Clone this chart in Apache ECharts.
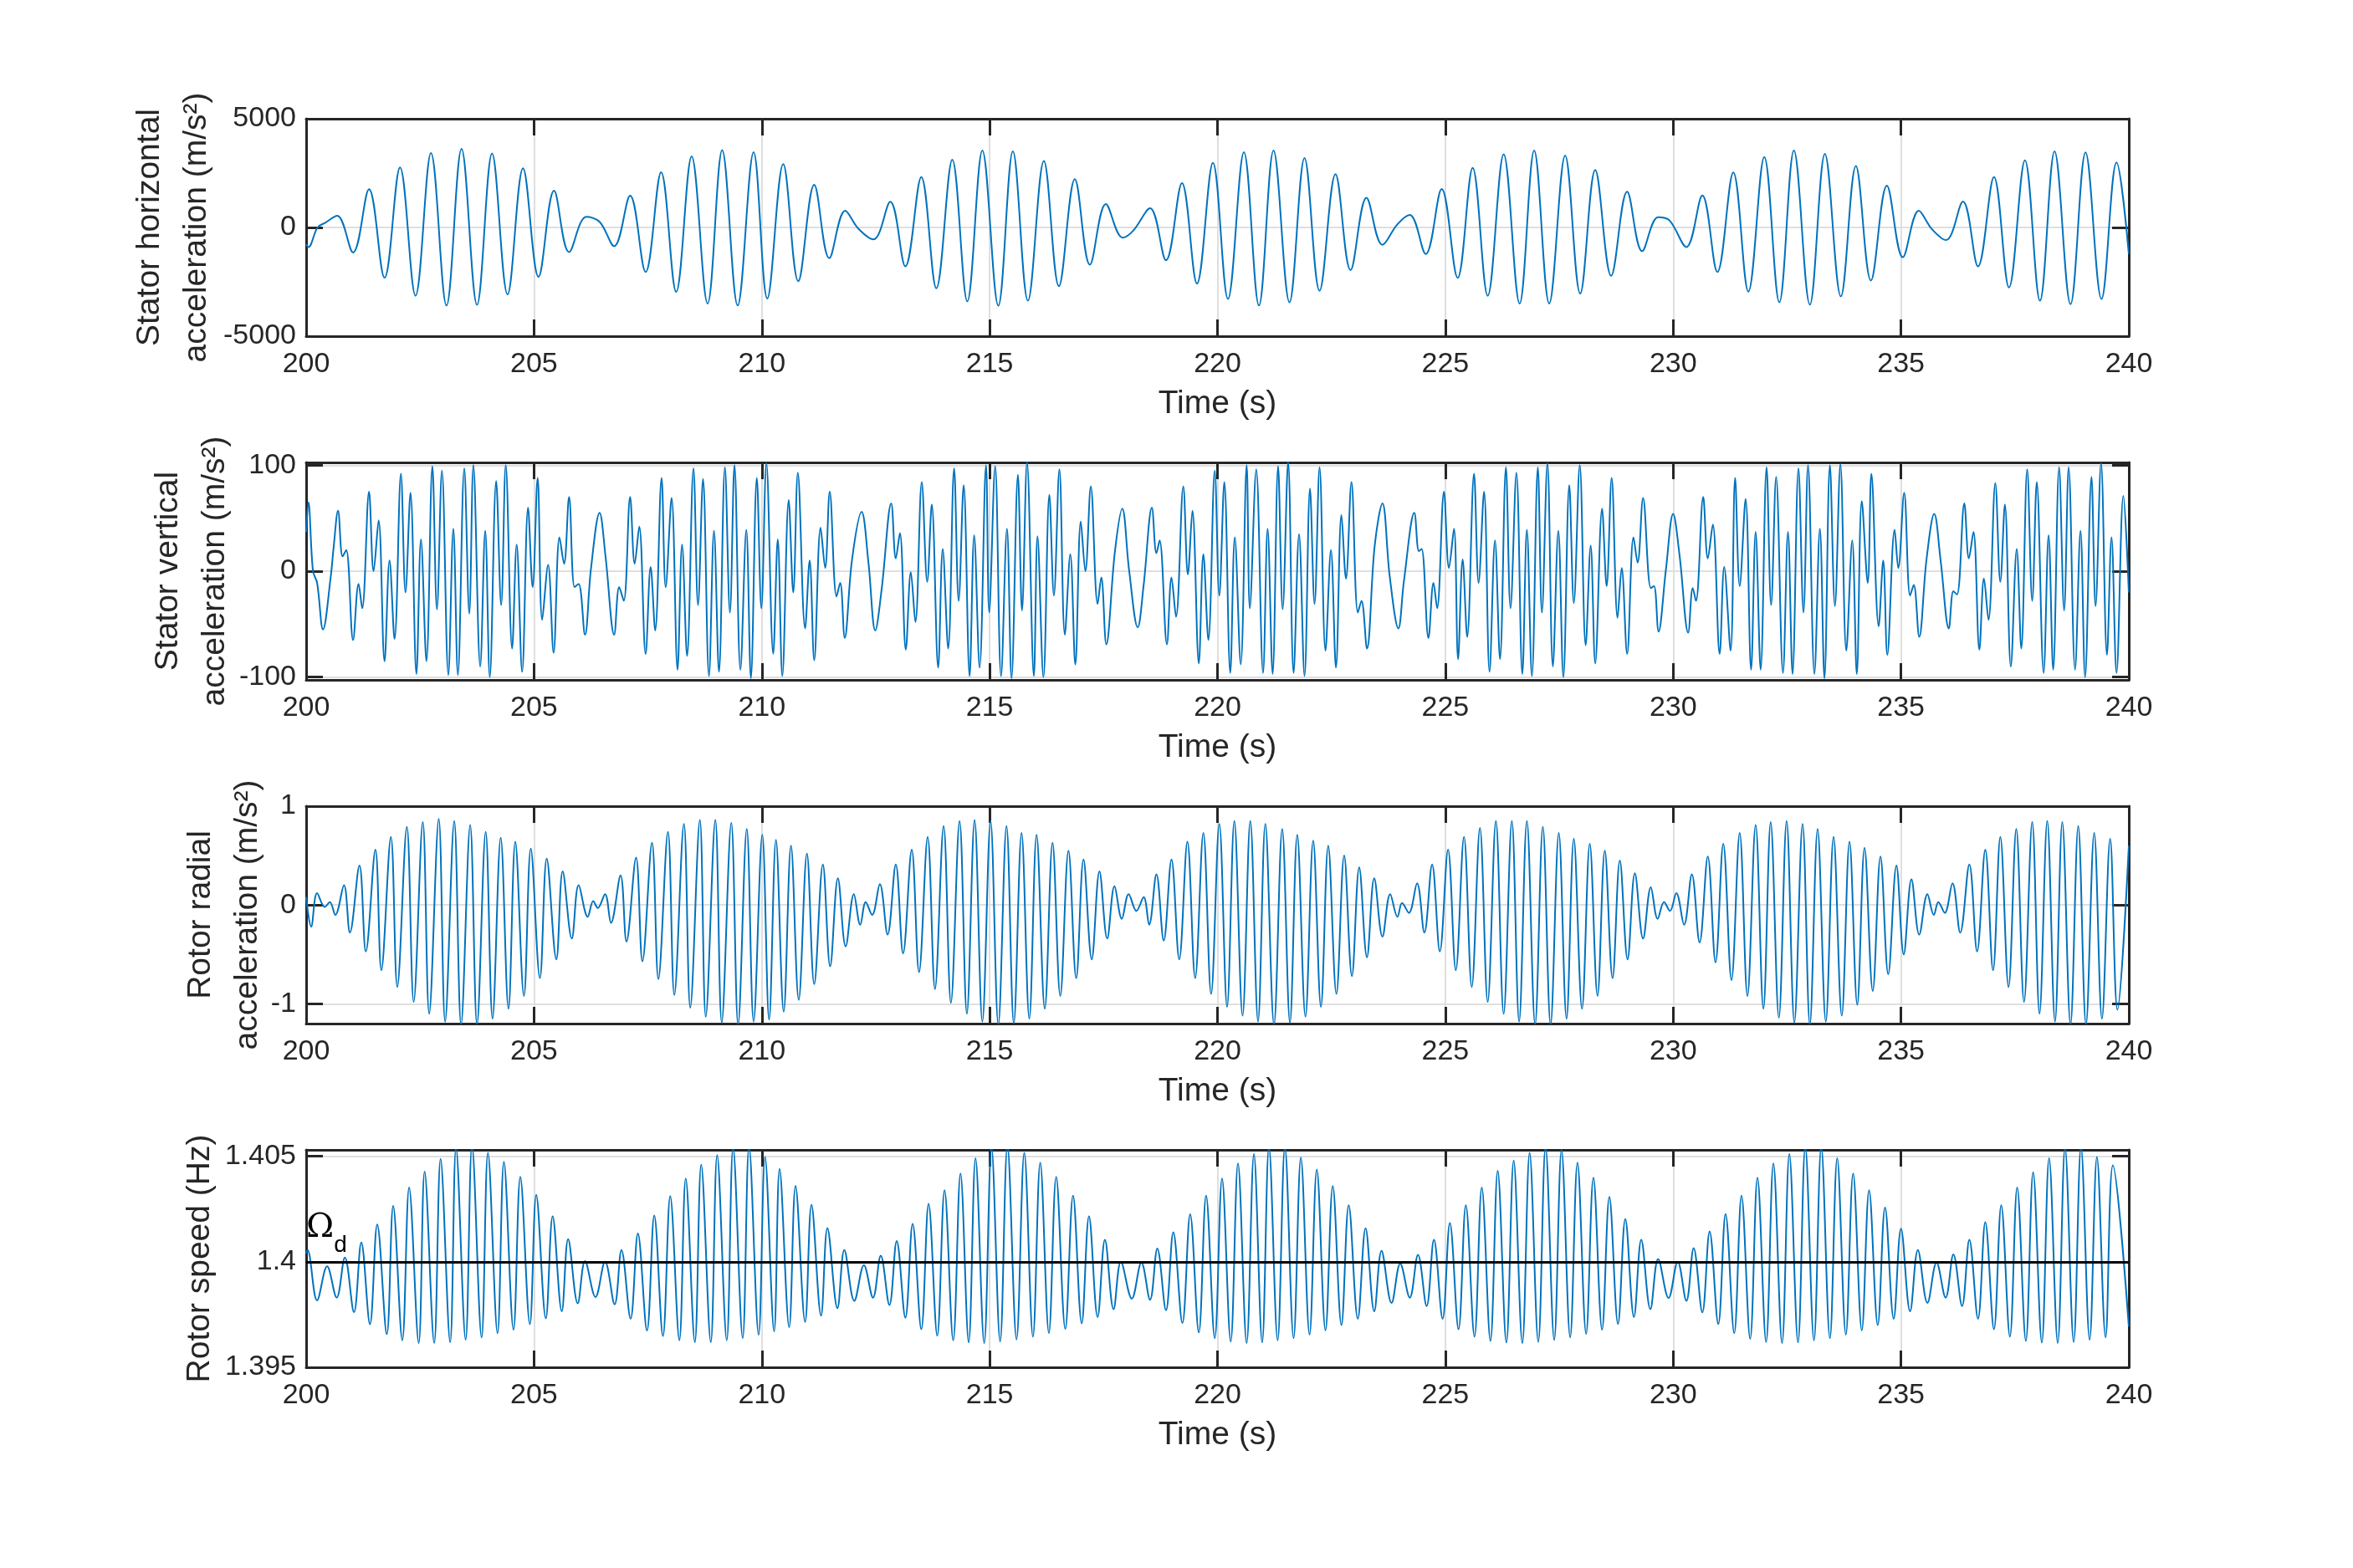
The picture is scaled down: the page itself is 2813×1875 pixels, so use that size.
<!DOCTYPE html>
<html>
<head>
<meta charset="utf-8">
<script src="https://cdn.jsdelivr.net/npm/echarts@6.0.0/dist/echarts.min.js"></script>
<style>
  html, body { margin: 0; padding: 0; background: #fff; }
  #main { width: 2813px; height: 1875px; }
</style>
</head>
<body>
<div id="main"></div>
<script>
// time window (s) and x ticks
var timeMin = 200, timeMax = 240, timeStep = 5;

// y tick values of each panel
var horizTicks = [-5000, 0, 5000];
var vertTicks = [-100, 0, 100];
var radialTicks = [-1, 0, 1];
var speedTicks = [1.395, 1.4, 1.405];
var speedRef = 1.4; // Omega_d

// stator horizontal acceleration (m/s^2): [time, value] read at peaks / troughs / shoulders
var horizAcc = [
  [200.00,-770],[200.05,-900],[200.25,0],[200.42,220],[200.68,540],[201.03,-1150],[201.38,1760],[201.72,-2310],
  [202.06,2760],[202.40,-3140],[202.74,3420],[203.08,-3590],[203.41,3620],[203.75,-3560],[204.08,3400],[204.42,-3080],
  [204.76,2720],[205.10,-2270],[205.44,1690],[205.77,-1130],[206.15,490],[206.44,260],[206.76,-860],[207.11,1460],
  [207.45,-2050],[207.79,2540],[208.12,-2960],[208.46,3270],[208.81,-3500],[209.13,3560],[209.47,-3590],[209.82,3460],
  [210.12,-3270],[210.47,2910],[210.80,-2470],[211.15,1960],[211.48,-1410],[211.83,770],[212.12,-60],[212.45,-550],
  [212.82,1180],[213.15,-1790],[213.50,2320],[213.83,-2800],[214.18,3120],[214.51,-3400],[214.84,3540],[215.19,-3600],
  [215.51,3500],[215.84,-3370],[216.19,3060],[216.52,-2700],[216.87,2220],[217.20,-1710],[217.55,1080],[217.92,-470],
  [218.15,-150],[218.52,880],[218.87,-1510],[219.22,2040],[219.55,-2580],[219.90,2970],[220.23,-3290],[220.58,3460],
  [220.91,-3590],[221.23,3540],[221.58,-3440],[221.91,3190],[222.24,-2910],[222.59,2450],[222.92,-1960],[223.27,1370],
  [223.62,-800],[223.95,150],[224.22,580],[224.57,-1220],[224.92,1770],[225.27,-2320],[225.60,2740],[225.93,-3140],
  [226.28,3370],[226.63,-3500],[226.95,3540],[227.28,-3500],[227.63,3310],[227.96,-3040],[228.29,2640],[228.64,-2220],
  [228.99,1640],[229.32,-1090],[229.67,470],[229.92,320],[230.29,-900],[230.64,1470],[230.97,-2050],[231.32,2530],
  [231.65,-2950],[232.00,3240],[232.33,-3440],[232.65,3540],[233.00,-3550],[233.33,3380],[233.68,-3170],[234.01,2830],
  [234.34,-2440],[234.69,1920],[235.04,-1370],[235.39,770],[235.68,-80],[235.99,-580],[236.36,1190],[236.69,-1790],
  [237.04,2320],[237.37,-2760],[237.72,3090],[238.05,-3370],[238.37,3500],[238.72,-3530],[239.05,3450],[239.40,-3290],
  [239.73,2990],[240.00,-1220]
];

// stator vertical acceleration (m/s^2)
var vertAcc = [
  [200.00,37],[200.05,65],[200.15,0],[200.24,-11],[200.37,-55],[200.54,-5],[200.60,21],[200.70,57],[200.80,14],[200.88,20],
  [201.03,-65],[201.15,-12],[201.23,-35],[201.38,75],[201.48,0],[201.59,48],[201.72,-85],[201.83,10],[201.94,-64],[202.08,92],
  [202.18,-20],[202.29,74],[202.42,-97],[202.52,30],[202.64,-85],[202.77,99],[202.87,-36],[202.98,95],[203.12,-98],[203.23,40],
  [203.33,-98],[203.47,97],[203.58,-40],[203.67,100],[203.82,-90],[203.93,38],[204.03,-100],[204.17,85],[204.28,-32],[204.38,100],
  [204.52,-73],[204.62,25],[204.74,-95],[204.87,60],[204.97,-15],[205.08,88],[205.18,-46],[205.31,6],[205.43,-77],[205.56,32],
  [205.66,7],[205.77,70],[205.89,-15],[205.98,-12],[206.12,-60],[206.25,2],[206.44,55],[206.57,14],[206.76,-60],[206.87,-15],
  [206.97,-28],[207.11,70],[207.21,7],[207.31,42],[207.45,-78],[207.56,4],[207.66,-56],[207.80,88],[207.89,-15],[208.02,69],
  [208.15,-93],[208.25,25],[208.36,-80],[208.50,97],[208.60,-32],[208.71,87],[208.84,-99],[208.95,38],[209.06,-95],[209.19,98],
  [209.30,-39],[209.40,100],[209.53,-93],[209.66,39],[209.76,-101],[209.89,88],[209.99,-35],[210.10,102],[210.25,-78],[210.35,30],
  [210.45,-99],[210.59,67],[210.69,-20],[210.79,93],[210.95,-54],[211.05,10],[211.15,-84],[211.29,41],[211.39,3],[211.49,75],
  [211.64,-24],[211.72,-11],[211.82,-63],[211.98,11],[212.19,56],[212.34,8],[212.49,-56],[212.63,-17],[212.84,64],[212.94,12],
  [213.03,36],[213.16,-74],[213.27,-1],[213.37,-48],[213.51,84],[213.63,-10],[213.73,63],[213.87,-91],[213.97,21],[214.09,-73],
  [214.22,97],[214.32,-28],[214.43,81],[214.56,-99],[214.66,34],[214.78,-91],[214.92,100],[214.99,-39],[215.12,99],[215.25,-99],
  [215.38,40],[215.48,-101],[215.62,91],[215.71,-37],[215.82,103],[215.97,-99],[216.05,33],[216.18,-100],[216.31,72],[216.41,-23],
  [216.53,96],[216.65,-60],[216.77,16],[216.88,-88],[217.00,47],[217.10,0],[217.22,80],[217.37,-31],[217.45,-6],[217.56,-69],
  [217.75,19],[217.91,59],[218.06,1],[218.25,-53],[218.38,-13],[218.56,60],[218.66,17],[218.73,29],[218.89,-69],[218.99,-6],
  [219.09,-43],[219.25,80],[219.35,-3],[219.45,57],[219.59,-87],[219.69,16],[219.80,-65],[219.94,95],[220.04,-23],[220.15,84],
  [220.28,-96],[220.38,32],[220.51,-88],[220.64,100],[220.71,-35],[220.85,96],[221.00,-96],[221.10,40],[221.21,-97],[221.33,99],
  [221.43,-36],[221.55,103],[221.67,-96],[221.79,35],[221.91,-99],[222.03,78],[222.13,-31],[222.24,98],[222.37,-75],[222.49,20],
  [222.60,-91],[222.72,53],[222.82,-7],[222.94,84],[223.08,-39],[223.16,-28],[223.28,-73],[223.45,24],[223.62,64],[223.78,-5],
  [223.97,-54],[224.09,-10],[224.32,55],[224.42,19],[224.48,21],[224.63,-63],[224.74,-11],[224.82,-35],[224.97,75],[225.08,3],
  [225.19,40],[225.28,-83],[225.38,11],[225.48,-62],[225.63,92],[225.73,-11],[225.85,75],[225.97,-95],[226.09,29],[226.20,-83],
  [226.33,98],[226.43,-35],[226.56,93],[226.69,-97],[226.79,39],[226.90,-99],[227.03,98],[227.12,-39],[227.24,102],[227.36,-90],
  [227.48,38],[227.59,-100],[227.72,81],[227.82,-30],[227.95,100],[228.08,-70],[228.19,24],[228.29,-87],[228.44,59],[228.54,-14],
  [228.65,88],[228.78,-44],[228.87,3],[228.99,-78],[229.13,32],[229.22,8],[229.34,69],[229.51,-16],[229.58,-14],[229.68,-57],
  [229.84,1],[230.00,54],[230.14,15],[230.33,-58],[230.43,-16],[230.50,-28],[230.66,70],[230.76,12],[230.87,44],[231.02,-78],
  [231.12,4],[231.26,-75],[231.36,88],[231.46,-14],[231.59,68],[231.71,-93],[231.81,37],[231.92,-93],[232.05,98],[232.15,-32],
  [232.26,89],[232.41,-96],[232.52,37],[232.62,-97],[232.75,97],[232.86,-39],[232.96,100],[233.10,-97],[233.22,40],[233.32,-101],
  [233.44,100],[233.55,-33],[233.67,101],[233.80,-75],[233.93,29],[234.03,-97],[234.14,66],[234.27,-11],[234.35,92],[234.51,-52],
  [234.61,10],[234.70,-79],[234.86,39],[234.94,3],[235.07,74],[235.20,-23],[235.28,-13],[235.40,-62],[235.56,11],[235.73,54],
  [235.87,10],[236.05,-54],[236.15,-19],[236.23,-22],[236.39,64],[236.49,12],[236.59,37],[236.72,-74],[236.82,-7],[236.92,-46],
  [237.07,83],[237.18,-10],[237.28,63],[237.41,-90],[237.54,21],[237.64,-73],[237.77,96],[237.88,-28],[237.98,84],[238.13,-96],
  [238.24,34],[238.34,-93],[238.47,98],[238.58,-37],[238.68,98],[238.82,-93],[238.94,38],[239.04,-100],[239.18,89],[239.27,-33],
  [239.39,102],[239.52,-79],[239.62,32],[239.73,-96],[239.88,71],[240.00,-20]
];

// rotor radial acceleration (m/s^2)
var radialAcc = [
  [200.00,0.08],[200.11,-0.22],[200.24,0.12],[200.41,-0.02],[200.52,0.03],[200.64,-0.10],[200.83,0.20],[200.96,-0.28],
  [201.17,0.40],[201.31,-0.47],[201.52,0.56],[201.65,-0.66],[201.86,0.69],[202.00,-0.83],[202.21,0.79],[202.36,-0.98],
  [202.56,0.84],[202.70,-1.10],[202.91,0.87],[203.05,-1.18],[203.25,0.85],[203.40,-1.21],[203.60,0.81],[203.75,-1.21],
  [203.94,0.74],[204.09,-1.15],[204.27,0.68],[204.44,-1.05],[204.59,0.64],[204.78,-0.92],[204.93,0.57],[205.13,-0.74],
  [205.28,0.47],[205.49,-0.55],[205.63,0.34],[205.83,-0.34],[205.98,0.20],[206.18,-0.12],[206.30,0.04],[206.40,-0.03],
  [206.56,0.11],[206.69,-0.18],[206.90,0.30],[207.03,-0.37],[207.24,0.48],[207.38,-0.57],[207.59,0.63],[207.73,-0.75],
  [207.94,0.74],[208.08,-0.91],[208.29,0.82],[208.43,-1.04],[208.64,0.86],[208.77,-1.13],[208.98,0.86],[209.12,-1.19],
  [209.33,0.83],[209.48,-1.21],[209.67,0.77],[209.82,-1.18],[210.01,0.71],[210.16,-1.16],[210.31,0.66],[210.48,-1.08],
  [210.64,0.60],[210.81,-0.96],[210.99,0.52],[211.15,-0.80],[211.34,0.41],[211.50,-0.62],[211.67,0.27],[211.84,-0.42],
  [212.02,0.11],[212.16,-0.20],[212.28,0.03],[212.42,-0.10],[212.59,0.21],[212.76,-0.30],[212.94,0.41],[213.10,-0.49],
  [213.29,0.56],[213.45,-0.68],[213.64,0.69],[213.80,-0.85],[213.99,0.80],[214.15,-0.99],[214.34,0.85],[214.50,-1.10],
  [214.67,0.86],[214.84,-1.18],[215.02,0.85],[215.19,-1.21],[215.37,0.80],[215.53,-1.20],[215.70,0.73],[215.87,-1.15],
  [216.03,0.71],[216.21,-1.05],[216.38,0.63],[216.55,-0.92],[216.73,0.55],[216.90,-0.74],[217.06,0.46],[217.24,-0.55],
  [217.41,0.34],[217.58,-0.34],[217.74,0.19],[217.90,-0.14],[218.05,0.11],[218.22,-0.06],[218.38,0.08],[218.50,-0.20],
  [218.66,0.31],[218.82,-0.36],[218.99,0.46],[219.16,-0.55],[219.34,0.64],[219.51,-0.74],[219.69,0.73],[219.86,-0.90],
  [220.04,0.82],[220.21,-1.03],[220.37,0.85],[220.55,-1.12],[220.72,0.85],[220.89,-1.18],[221.05,0.82],[221.24,-1.21],
  [221.42,0.77],[221.59,-1.19],[221.75,0.71],[221.93,-1.13],[222.10,0.65],[222.27,-1.03],[222.43,0.60],[222.61,-0.90],
  [222.78,0.50],[222.95,-0.72],[223.11,0.38],[223.28,-0.53],[223.44,0.27],[223.62,-0.32],[223.79,0.11],[223.95,-0.12],
  [224.05,0.02],[224.20,-0.08],[224.38,0.22],[224.54,-0.28],[224.71,0.41],[224.88,-0.47],[225.06,0.56],[225.23,-0.66],
  [225.41,0.69],[225.58,-0.83],[225.76,0.78],[225.93,-0.98],[226.11,0.85],[226.28,-1.10],[226.46,0.85],[226.62,-1.18],
  [226.79,0.85],[226.97,-1.21],[227.14,0.79],[227.31,-1.21],[227.49,0.73],[227.66,-1.15],[227.82,0.67],[228.00,-1.05],
  [228.17,0.62],[228.34,-0.92],[228.50,0.55],[228.67,-0.74],[228.83,0.45],[229.00,-0.55],[229.16,0.32],[229.34,-0.34],
  [229.51,0.18],[229.66,-0.14],[229.80,0.03],[229.93,-0.06],[230.07,0.12],[230.24,-0.20],[230.41,0.31],[230.58,-0.38],
  [230.76,0.49],[230.93,-0.58],[231.10,0.62],[231.28,-0.76],[231.46,0.73],[231.63,-0.92],[231.81,0.81],[231.98,-1.05],
  [232.14,0.84],[232.32,-1.14],[232.49,0.85],[232.66,-1.19],[232.84,0.82],[233.00,-1.21],[233.17,0.77],[233.35,-1.18],
  [233.52,0.69],[233.70,-1.12],[233.87,0.64],[234.04,-1.01],[234.20,0.58],[234.38,-0.87],[234.55,0.49],[234.72,-0.70],
  [234.90,0.40],[235.06,-0.50],[235.23,0.26],[235.40,-0.30],[235.58,0.11],[235.72,-0.10],[235.82,0.03],[235.96,-0.08],
  [236.13,0.22],[236.30,-0.28],[236.50,0.41],[236.67,-0.47],[236.85,0.56],[237.02,-0.66],[237.18,0.69],[237.36,-0.83],
  [237.53,0.77],[237.70,-0.98],[237.88,0.84],[238.04,-1.10],[238.21,0.85],[238.38,-1.18],[238.54,0.84],[238.72,-1.21],
  [238.89,0.80],[239.06,-1.21],[239.24,0.73],[239.41,-1.15],[239.59,0.67],[239.75,-1.06],[240.00,0.60]
];

// rotor speed (Hz)
var rotorSpeed = [
  [200.00,1.40040],[200.03,1.40056],[200.24,1.39817],[200.46,1.39978],[200.67,1.39830],[200.85,1.40020],[201.05,1.39761],[201.21,1.40091],
  [201.40,1.39704],[201.56,1.40176],[201.77,1.39657],[201.91,1.40265],[202.11,1.39628],[202.26,1.40352],[202.47,1.39615],[202.60,1.40427],
  [202.81,1.39615],[202.95,1.40487],[203.16,1.39619],[203.29,1.40540],[203.50,1.39631],[203.64,1.40550],[203.85,1.39641],[203.99,1.40516],
  [204.20,1.39661],[204.34,1.40474],[204.55,1.39678],[204.70,1.40402],[204.91,1.39704],[205.05,1.40317],[205.26,1.39732],[205.41,1.40215],
  [205.61,1.39765],[205.75,1.40107],[205.96,1.39803],[206.12,1.40003],[206.35,1.39833],[206.56,1.40000],[206.77,1.39798],[206.92,1.40056],
  [207.12,1.39730],[207.28,1.40134],[207.48,1.39674],[207.64,1.40219],[207.83,1.39648],[207.99,1.40311],[208.19,1.39628],[208.33,1.40394],
  [208.53,1.39619],[208.67,1.40460],[208.88,1.39619],[209.02,1.40505],[209.23,1.39628],[209.37,1.40540],[209.58,1.39638],[209.72,1.40545],
  [209.93,1.39654],[210.07,1.40496],[210.27,1.39670],[210.39,1.40440],[210.60,1.39690],[210.74,1.40360],[210.95,1.39715],[211.09,1.40270],
  [211.30,1.39745],[211.44,1.40160],[211.66,1.39780],[211.81,1.40056],[212.03,1.39815],[212.24,1.39983],[212.44,1.39830],[212.61,1.40029],
  [212.80,1.39795],[212.96,1.40098],[213.15,1.39735],[213.31,1.40179],[213.50,1.39680],[213.66,1.40274],[213.85,1.39650],[214.01,1.40339],
  [214.20,1.39628],[214.36,1.40418],[214.54,1.39618],[214.69,1.40490],[214.88,1.39615],[215.04,1.40540],[215.23,1.39622],[215.39,1.40550],
  [215.59,1.39632],[215.76,1.40516],[215.95,1.39645],[216.11,1.40470],[216.30,1.39662],[216.46,1.40402],[216.66,1.39682],[216.83,1.40313],
  [217.02,1.39708],[217.18,1.40215],[217.37,1.39738],[217.53,1.40104],[217.72,1.39775],[217.88,1.40000],[218.12,1.39825],[218.33,1.39996],
  [218.52,1.39820],[218.68,1.40063],[218.87,1.39770],[219.03,1.40140],[219.23,1.39710],[219.40,1.40225],[219.59,1.39665],[219.75,1.40313],
  [219.94,1.39638],[220.10,1.40394],[220.29,1.39622],[220.45,1.40466],[220.64,1.39615],[220.80,1.40510],[220.98,1.39618],[221.13,1.40545],
  [221.32,1.39628],[221.48,1.40545],[221.67,1.39638],[221.83,1.40493],[222.02,1.39655],[222.18,1.40437],[222.37,1.39675],[222.53,1.40359],
  [222.72,1.39700],[222.88,1.40268],[223.08,1.39730],[223.25,1.40159],[223.44,1.39765],[223.60,1.40052],[223.82,1.39805],[224.01,1.39991],
  [224.22,1.39830],[224.40,1.40033],[224.59,1.39790],[224.75,1.40104],[224.94,1.39730],[225.10,1.40183],[225.29,1.39680],[225.45,1.40268],
  [225.64,1.39645],[225.80,1.40352],[225.99,1.39625],[226.15,1.40431],[226.34,1.39617],[226.50,1.40479],[226.69,1.39615],[226.85,1.40516],
  [227.04,1.39620],[227.20,1.40545],[227.39,1.39630],[227.55,1.40530],[227.74,1.39642],[227.90,1.40470],[228.09,1.39658],[228.25,1.40398],
  [228.44,1.39678],[228.60,1.40307],[228.79,1.39705],[228.95,1.40202],[229.14,1.39738],[229.30,1.40104],[229.50,1.39775],[229.67,1.40013],
  [229.90,1.39828],[230.10,1.40000],[230.29,1.39815],[230.45,1.40065],[230.64,1.39760],[230.80,1.40144],[230.99,1.39705],[231.15,1.40226],
  [231.34,1.39662],[231.50,1.40313],[231.69,1.39635],[231.85,1.40398],[232.04,1.39620],[232.20,1.40466],[232.39,1.39615],[232.55,1.40510],
  [232.74,1.39618],[232.90,1.40545],[233.09,1.39628],[233.25,1.40545],[233.44,1.39638],[233.60,1.40490],[233.79,1.39655],[233.95,1.40418],
  [234.14,1.39675],[234.30,1.40339],[234.49,1.39700],[234.65,1.40257],[234.84,1.39730],[235.00,1.40157],[235.20,1.39765],[235.37,1.40056],
  [235.58,1.39805],[235.78,1.39996],[235.98,1.39830],[236.15,1.40035],[236.34,1.39790],[236.50,1.40104],[236.69,1.39730],[236.85,1.40187],
  [237.04,1.39680],[237.20,1.40268],[237.39,1.39645],[237.55,1.40352],[237.74,1.39625],[237.90,1.40424],[238.09,1.39617],[238.25,1.40490],
  [238.44,1.39615],[238.60,1.40540],[238.79,1.39620],[238.95,1.40545],[239.14,1.39630],[239.30,1.40496],[239.49,1.39642],[239.65,1.40457],
  [240.00,1.39693]
];

var FONT = "'Liberation Sans', Arial, Helvetica, sans-serif";
var INK = '#262626';
var BLUE = '#0072BD';
var GRIDC = '#dfdfdf';

var panels = [
  { data: horizAcc,   name: 'Stator horizontal\nacceleration (m/s²)', min: -5000, max: 5000,   ticks: horizTicks,  top: 142,  nameGap: 103 },
  { data: vertAcc,    name: 'Stator vertical\nacceleration (m/s²)',   min: -102.6, max: 102.6,  ticks: vertTicks,   top: 553,  nameGap: 81 },
  { data: radialAcc,  name: 'Rotor radial\nacceleration (m/s²)',      min: -1.2, max: 1,        ticks: radialTicks, top: 964,  nameGap: 42 },
  { data: rotorSpeed, name: 'Rotor speed (Hz)',                        min: 1.395, max: 1.4053,  ticks: speedTicks,  top: 1375, nameGap: 99 }
];

var chart = echarts.init(document.getElementById('main'));

var grids = [], xAxes = [], yAxes = [], seriesList = [];
var lineBox = { color: INK, width: 3 };
function plainNum(v) { return String(v); }

panels.forEach(function (p, i) {
  grids.push({ left: 366, width: 2179, top: p.top, height: 260, outerBoundsMode: 'none' });

  // bottom x axis with labels
  xAxes.push({
    type: 'value', gridIndex: i, position: 'bottom',
    min: timeMin, max: timeMax, interval: timeStep,
    name: 'Time (s)', nameLocation: 'middle', nameGap: 62, nameMoveOverlap: false,
    nameTextStyle: { fontSize: 39, color: INK, fontFamily: FONT },
    axisLine: { onZero: false, lineStyle: lineBox },
    axisTick: { inside: true, length: 20, lineStyle: lineBox },
    axisLabel: { margin: 17, fontSize: 34, color: INK, fontFamily: FONT, showMinLabel: true, showMaxLabel: true, formatter: plainNum },
    splitLine: { show: true, lineStyle: { color: GRIDC, width: 2 } }
  });
  // top x axis (box + mirrored ticks)
  xAxes.push({
    type: 'value', gridIndex: i, position: 'top',
    min: timeMin, max: timeMax, interval: timeStep,
    axisLine: { onZero: false, lineStyle: lineBox },
    axisTick: { inside: true, length: 20, lineStyle: lineBox },
    axisLabel: { show: false }, splitLine: { show: false }
  });
  // left y axis
  yAxes.push({
    type: 'value', gridIndex: i, position: 'left',
    min: p.min, max: p.max,
    name: p.name, nameLocation: 'middle', nameRotate: 90, nameGap: p.nameGap, nameMoveOverlap: false,
    nameTextStyle: { fontSize: 39, lineHeight: 56, color: INK, fontFamily: FONT, align: 'center' },
    axisLine: { onZero: false, lineStyle: lineBox },
    axisTick: { inside: true, length: 20, lineStyle: lineBox, customValues: p.ticks },
    axisLabel: { margin: 12, fontSize: 34, color: INK, fontFamily: FONT, customValues: p.ticks, formatter: plainNum },
    splitLine: { show: true, lineStyle: { color: GRIDC, width: 2 } }
  });
  // right y axis (box + mirrored ticks)
  yAxes.push({
    type: 'value', gridIndex: i, position: 'right',
    min: p.min, max: p.max,
    axisLine: { onZero: false, lineStyle: lineBox },
    axisTick: { inside: true, length: 20, lineStyle: lineBox, customValues: p.ticks },
    axisLabel: { show: false, customValues: p.ticks }, splitLine: { show: false }
  });

  var s = {
    type: 'line', xAxisIndex: 2 * i, yAxisIndex: 2 * i,
    data: p.data, showSymbol: false, smooth: 0.37, clip: true,
    lineStyle: { color: BLUE, width: 2 }, itemStyle: { color: BLUE },
    animation: false
  };
  if (i === 3) {
    s.markLine = {
      silent: true, symbol: ['none', 'none'], animation: false,
      lineStyle: { color: '#000', width: 3, type: 'solid' },
      label: {
        show: true, position: 'insideStartTop', distance: [0, 6],
        formatter: '{o|Ω}{d|d}',
        rich: {
          o: { fontSize: 40, fontFamily: "'DejaVu Serif', 'Liberation Serif', serif", color: '#000', lineHeight: 54, verticalAlign: 'top' },
          d: { fontSize: 28, fontFamily: FONT, color: '#000', lineHeight: 54, verticalAlign: 'bottom', padding: [22, 0, 0, 0] }
        }
      },
      data: [{ yAxis: speedRef }]
    };
  }
  seriesList.push(s);
});

chart.setOption({
  backgroundColor: '#fff',
  animation: false,
  grid: grids,
  xAxis: xAxes,
  yAxis: yAxes,
  series: seriesList
});
</script>
</body>
</html>
